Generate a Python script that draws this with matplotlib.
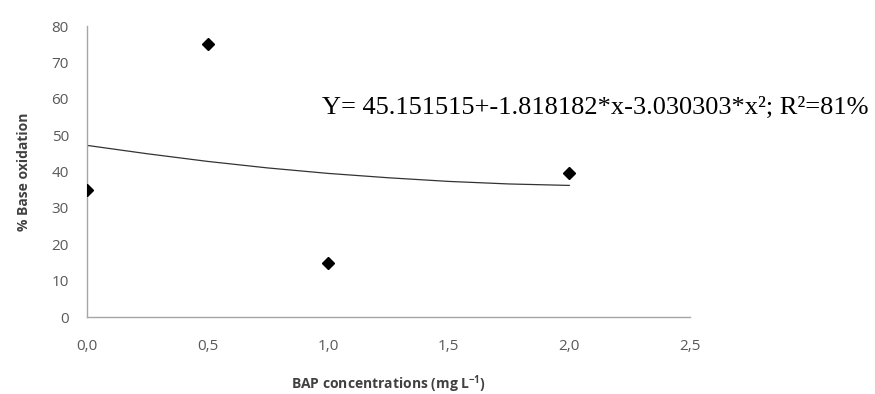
import numpy as np
import matplotlib.pyplot as plt

# =============================================================================
# Data
# =============================================================================

# BAP concentration (mg/L) and % base oxidation
bap = [0.0, 0.5, 1.0, 2.0]
oxidation = [35, 75, 15, 39.5]

# Trend curve as it appears in the picture
curve_x = [0.0, 0.25, 0.5, 0.75, 1.0, 1.25, 1.5, 1.75, 2.0]
curve_y = [47.2, 44.9, 42.8, 41.0, 39.5, 38.3, 37.3, 36.6, 36.2]

x_ticks = [0.0, 0.5, 1.0, 1.5, 2.0, 2.5]
x_ticklabels = ["0,0", "0,5", "1,0", "1,5", "2,0", "2,5"]
y_ticks = [0, 10, 20, 30, 40, 50, 60, 70, 80]

equation = "Y= 45.151515+-1.818182*x-3.030303*x²; R²=81%"

# =============================================================================
# Plot
# =============================================================================

fig = plt.figure(figsize=(8.75, 3.94), dpi=100)
ax = fig.add_axes([0.0994, 0.195, 0.689, 0.739])

ax.plot(curve_x, curve_y, color="#333333", lw=0.9, zorder=2)
ax.plot(bap, oxidation, linestyle="none", marker="D", markersize=6.5,
        color="black", zorder=3)

ax.set_xlim(0, 2.5)
ax.set_ylim(0, 80)
ax.set_xticks(x_ticks)
ax.set_xticklabels(x_ticklabels)
ax.set_yticks(y_ticks)

for side in ["top", "right"]:
    ax.spines[side].set_visible(False)
for side in ["left", "bottom"]:
    ax.spines[side].set_color("#a6a6a6")
    ax.spines[side].set_linewidth(1.0)

ax.tick_params(length=0, colors="#595959", labelsize=11)
ax.tick_params(axis="x", pad=16)
ax.tick_params(axis="y", pad=13)
for lbl in ax.get_xticklabels() + ax.get_yticklabels():
    lbl.set_family("Open Sans")

ax.set_xlabel("BAP concentrations (mg L$^{\\mathregular{-1}}$)", fontsize=10,
              fontweight="bold", color="#404040", family="Open Sans", labelpad=14)
ax.set_ylabel("% Base oxidation", fontsize=10, fontweight="bold",
              color="#404040", family="Open Sans", labelpad=15)

fig.text(0.368, 0.726, equation, fontsize=19, family="Liberation Serif",
         color="black", va="center", ha="left")

fig.savefig("out.png", dpi=100)
